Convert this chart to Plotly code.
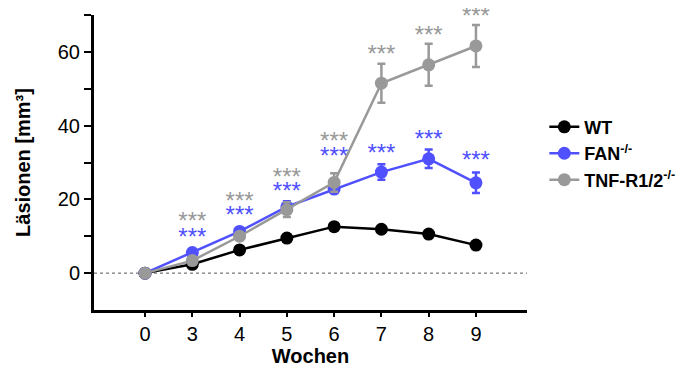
import plotly.graph_objects as go

weeks = ["0", "3", "4", "5", "6", "7", "8", "9"]
wt = [0, 2.4, 6.3, 9.5, 12.6, 11.9, 10.6, 7.6]
wt_err = [0, 0.5, 0.6, 0.7, 0.8, 0.8, 0.8, 0.7]
fan = [0, 5.6, 11.3, 18.0, 22.8, 27.4, 31.0, 24.5]
fan_err = [0, 0.8, 1.0, 1.5, 1.0, 2.1, 2.5, 2.8]
tnf = [0, 3.4, 10.0, 17.2, 24.6, 51.5, 56.5, 61.6]
tnf_err = [0, 0.8, 1.0, 2.0, 2.5, 5.3, 5.7, 5.7]

# significance markers (text-box centres, in y-axis units)
star_weeks = ["3", "4", "5", "6", "7", "8", "9"]
star_tnf_y = [13.7, 19.1, 25.5, 35.3, 59.0, 64.0, 69.1]
star_fan_y = [9.3, 15.3, 21.7, 31.2, 32.1, 35.7, 30.1]

BLACK = "#000000"
BLUE = "#5050FF"
GRAY = "#999999"
FONT = "Liberation Sans, Arial, sans-serif"

fig = go.Figure()
for name, vals, errs, col in [
    ("WT", wt, wt_err, BLACK),
    ("FAN<sup>-/-</sup>", fan, fan_err, BLUE),
    ("TNF-R1/2<sup>-/-</sup>", tnf, tnf_err, GRAY),
]:
    fig.add_trace(go.Scatter(
        x=weeks, y=vals, name=name, mode="lines+markers",
        line=dict(color=col, width=2.5),
        marker=dict(color=col, size=13),
        error_y=dict(type="data", array=errs, color=col, thickness=2.5, width=4),
        cliponaxis=False,
    ))

for ys, col in [(star_tnf_y, GRAY), (star_fan_y, BLUE)]:
    fig.add_trace(go.Scatter(
        x=star_weeks, y=ys, mode="text", text=["***"] * len(ys),
        textposition="middle center", showlegend=False, hoverinfo="skip",
        textfont=dict(family=FONT, size=24, color=col), cliponaxis=False,
    ))

fig.add_shape(type="line", xref="paper", yref="y", x0=0, x1=1, y0=0, y1=0,
              line=dict(color="#555555", width=1, dash="dot"), layer="below")

ytv = [0, 10, 20, 30, 40, 50, 60, 70]
ytt = ["0", "", "20", "", "40", "", "60", ""]

fig.update_layout(
    width=699, height=368,
    margin=dict(l=86, r=180, t=7, b=66),
    paper_bgcolor="white", plot_bgcolor="white",
    font=dict(family=FONT, size=20, color="black"),
    xaxis=dict(type="category", categoryorder="array", categoryarray=weeks,
               range=[-1.08, 8.08], showline=True, linecolor="black",
               linewidth=3, ticks="outside", ticklen=4, tickwidth=2, tickcolor="black",
               showgrid=False, zeroline=False, automargin=False,
               tickfont=dict(size=20),
               title=dict(text="<b>Wochen</b>", font=dict(size=20), standoff=1)),
    yaxis=dict(range=[-10, 70], tickvals=ytv, ticktext=ytt, showline=True,
               linecolor="black", linewidth=3, ticks="outside", ticklen=7,
               tickwidth=2, tickcolor="black", showgrid=False, zeroline=False,
               automargin=False,
               tickfont=dict(size=20),
               title=dict(text="<b>Läsionen [mm³]</b>", font=dict(size=20), standoff=22)),
    legend=dict(x=1.04, y=0.53, xanchor="left", yanchor="middle",
                font=dict(size=18, family=FONT, weight="bold"), bgcolor="rgba(0,0,0,0)",
                tracegroupgap=0, itemwidth=30),
    showlegend=True,
)
fig.write_html("out.html")
